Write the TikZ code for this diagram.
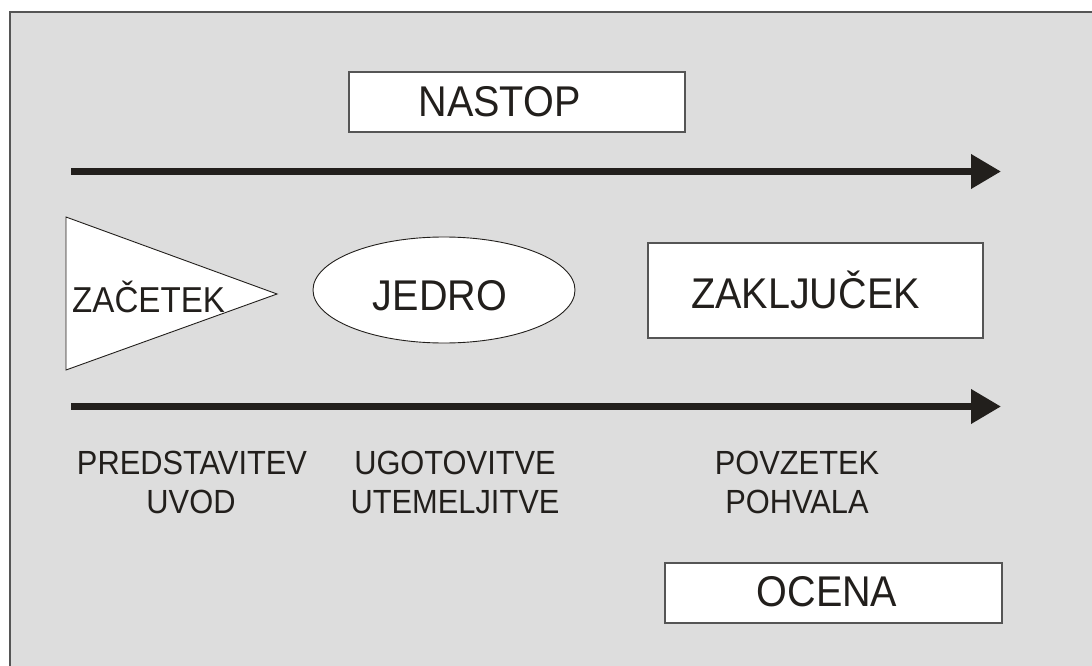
\documentclass[tikz,border=0pt]{standalone}
\usepackage{fontspec}
\setmainfont{Liberation Sans}
\newfontfamily\narrowsans[FakeStretch=0.92]{Liberation Sans}
\usetikzlibrary{arrows.meta,shapes.geometric}
\definecolor{bggray}{HTML}{DDDDDD}
\definecolor{ink}{HTML}{221F1C}
\definecolor{frame}{HTML}{555555}
\tikzset{
  box/.style={draw=frame,line width=1.3pt,fill=white,inner sep=0pt,outer sep=0pt},
  big/.style={text=ink,inner sep=0pt,anchor=base,font=\narrowsans\fontsize{43}{50}\selectfont},
  mid/.style={text=ink,inner sep=0pt,anchor=base,font=\narrowsans\fontsize{36}{42}\selectfont},
  lab/.style={text=ink,inner sep=0pt,anchor=base,font=\narrowsans\fontsize{33.5}{40}\selectfont},
  flow/.style={draw=ink,line width=7pt,-{Triangle[length=30pt,width=33pt]}}
}
\begin{document}
\begin{tikzpicture}[x=1pt,y=-1pt]
\useasboundingbox (0,0) rectangle (1092,666);
\fill[bggray] (10,12) rectangle (1092,666);
\draw[frame,line width=1.3pt] (10,666) -- (10,12) -- (1092,12);
% NASTOP
\node[box,minimum width=336pt,minimum height=60pt] (nastopbox) at (517,102) {};
\node[big] (nastop) at (499.5,117) {NASTOP};
% arrows
\coordinate (a1s) at (71,171.5);
\coordinate (a1e) at (1001,171.5);
\draw[flow] (a1s) -- (a1e);
\coordinate (a2s) at (71,406.5);
\coordinate (a2e) at (1001,406.5);
\draw[flow] (a2s) -- (a2e);
% triangle
\coordinate (t1) at (66,217);
\coordinate (t2) at (66,370);
\coordinate (t3) at (277,294);
\draw[ink,line width=0.9pt,fill=white] (t1) -- (t3) -- (t2) -- cycle;
\node[mid,anchor=base west] (zacetek) at (72,312) {ZAČETEK};
% ellipse
\node[ellipse,draw=ink,line width=0.9pt,fill=white,minimum width=262pt,minimum height=106pt,inner sep=0pt] (jedroel) at (444,290) {};
\node[big] (jedro) at (440,310) {JEDRO};
% zakljucek
\node[box,minimum width=335pt,minimum height=95pt] (zakbox) at (815.5,290.5) {};
\node[big] (zak) at (805.5,308) {ZAKLJUČEK};
% labels
\node[lab] (l1a) at (192,474) {PREDSTAVITEV};
\node[lab] (l1b) at (191,513) {UVOD};
\node[lab] (l2a) at (455,474) {UGOTOVITVE};
\node[lab] (l2b) at (455,513) {UTEMELJITVE};
\node[lab] (l3a) at (797,474) {POVZETEK};
\node[lab] (l3b) at (797,513) {POHVALA};
% ocena
\node[box,minimum width=337pt,minimum height=60pt] (ocenabox) at (833.5,593) {};
\node[big] (ocena) at (827,606) {OCENA};
\end{tikzpicture}
\end{document}
